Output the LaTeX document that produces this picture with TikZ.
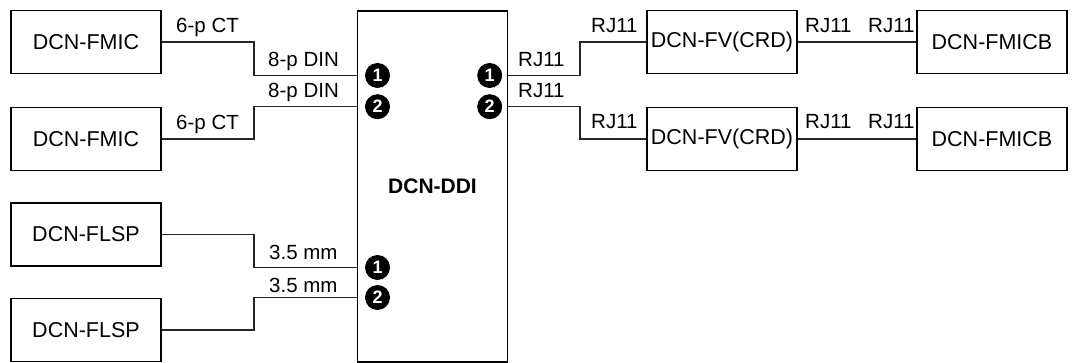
\documentclass[tikz,border=0pt]{standalone}
\usepackage{fontspec}
\setmainfont{Liberation Sans}
\begin{document}
\begin{tikzpicture}[x=1pt,y=-1pt,
  unit/.style={draw,line width=1.8pt,minimum width=150pt,minimum height=63pt,inner sep=0pt,font=\fontsize{21.5}{24}\selectfont},
  port/.style={circle,fill=black,minimum size=25pt,inner sep=0pt,text=white,font=\fontsize{18}{18}\selectfont\bfseries},
  lbl/.style={anchor=base west,inner sep=0pt,font=\fontsize{20.5}{22}\selectfont},
  wire/.style={line width=1.1pt,draw=black!85}]
\useasboundingbox (0,0) rectangle (1073,363);
% units
\node[unit] (m1) at (86,42) {DCN-FMIC};
\node[unit] (m2) at (86,139) {DCN-FMIC};
\node[unit] (s1) at (86,234.5) {DCN-FLSP};
\node[unit] (s2) at (86,330) {DCN-FLSP};
\node[unit,minimum width=150pt,minimum height=351pt,font=\fontsize{21}{24}\selectfont\bfseries] (ddi) at (432.5,186.5) {DCN-DDI};
\node[unit] (fv1) at (722,42) {DCN-FV(CRD)};
\node[unit] (fv2) at (722,139) {DCN-FV(CRD)};
\node[unit] (cb1) at (992,42) {DCN-FMICB};
\node[unit] (cb2) at (992,139) {DCN-FMICB};
% ports
\node[port] (pl1) at (377.5,75.5) {1};
\node[port] (pl2) at (377.5,106.7) {2};
\node[port] (pl3) at (377.5,267.5) {1};
\node[port] (pl4) at (377.5,297.5) {2};
\node[port] (pr1) at (489.7,75.5) {1};
\node[port] (pr2) at (489.7,106.7) {2};
% wires
\draw[wire] (m1.east) -- (254,42) |- (ddi.west |- pl1);
\draw[wire] (m2.east) -- (254,139) |- (ddi.west |- pl2);
\draw[wire] (s1.east) -- (254,234.5) |- (ddi.west |- pl3);
\draw[wire] (s2.east) -- (254,330) |- (ddi.west |- pl4);
\draw[wire] (ddi.east |- pr1) -| (580,42) -- (fv1.west);
\draw[wire] (ddi.east |- pr2) -| (580,139) -- (fv2.west);
\draw[wire] (fv1.east) -- (cb1.west);
\draw[wire] (fv2.east) -- (cb2.west);
% labels
\node[lbl] (t1) at (176,33) {6-p CT};
\node[lbl] (t2) at (268,67) {8-p DIN};
\node[lbl] (t3) at (268,97.5) {8-p DIN};
\node[lbl] (t4) at (176,130) {6-p CT};
\node[lbl] (t5) at (269,260) {3.5 mm};
\node[lbl] (t6) at (269,292) {3.5 mm};
\node[lbl] (r1) at (518,67) {RJ11};
\node[lbl] (r2) at (518,98) {RJ11};
\node[lbl] (r3) at (591,33) {RJ11};
\node[lbl] (r4) at (591,129) {RJ11};
\node[lbl] (r5) at (805,33) {RJ11};
\node[lbl] (r6) at (868,33) {RJ11};
\node[lbl] (r7) at (805,129) {RJ11};
\node[lbl] (r8) at (868,129) {RJ11};
\end{tikzpicture}
\end{document}
